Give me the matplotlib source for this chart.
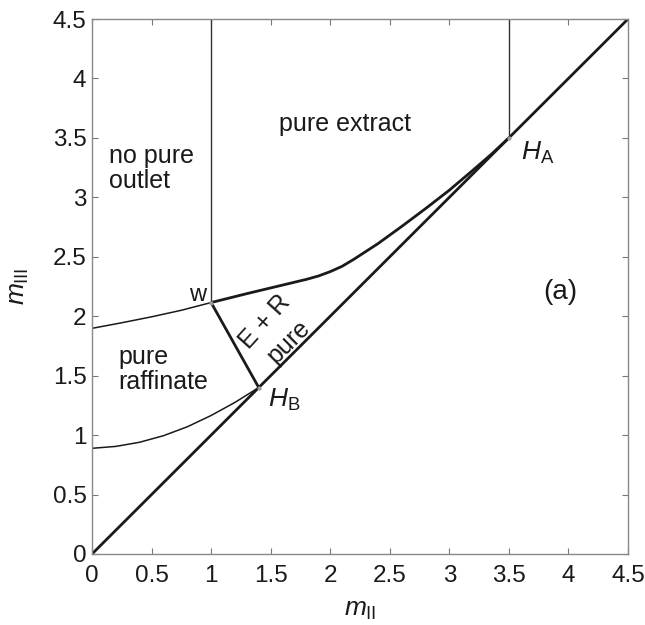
import matplotlib
matplotlib.use("Agg")
import matplotlib.pyplot as plt

plt.rcParams['font.family'] = ['Liberation Sans', 'DejaVu Sans']
plt.rcParams['mathtext.fontset'] = 'custom'
plt.rcParams['mathtext.rm'] = 'Liberation Sans'
plt.rcParams['mathtext.it'] = 'Liberation Sans:italic'

# ---- data ----
ticks = [0, 0.5, 1, 1.5, 2, 2.5, 3, 3.5, 4, 4.5]
tick_labels = ['0', '0.5', '1', '1.5', '2', '2.5', '3', '3.5', '4', '4.5']

diag_x = [0, 4.5]
diag_y = [0, 4.5]

upper_left_x = [0.0, 0.25, 0.5, 0.75, 1.0]
upper_left_y = [1.898, 1.945, 1.995, 2.05, 2.115]

wa_x = [1.0, 1.3, 1.6, 1.8, 1.9, 2.0, 2.1, 2.2, 2.4, 2.6, 2.8, 3.0, 3.2, 3.35, 3.5]
wa_y = [2.115, 2.19, 2.262, 2.31, 2.338, 2.375, 2.42, 2.48, 2.61, 2.755, 2.905, 3.06, 3.23, 3.36, 3.5]

lower_x = [0.0, 0.2, 0.4, 0.6, 0.8, 1.0, 1.2, 1.4]
lower_y = [0.889, 0.905, 0.94, 0.995, 1.07, 1.165, 1.275, 1.40]

wb_x = [1.0, 1.4]
wb_y = [2.115, 1.40]

vert_w_x = [1.0, 1.0]
vert_w_y = [2.115, 4.5]
vert_a_x = [3.5, 3.5]
vert_a_y = [3.5, 4.5]

points_x = [1.0, 3.5, 1.4]
points_y = [2.115, 3.5, 1.40]

# ---- figure ----
fig = plt.figure(figsize=(6.45, 6.25), dpi=100)
ax = fig.add_axes([92/645, 71/625, 536/645, 535/625])

thick = dict(color='#1a1a1a', lw=2.0, solid_capstyle='butt', solid_joinstyle='round')
thin = dict(color='#1a1a1a', lw=1.1, solid_joinstyle='round')
vthin = dict(color='#333333', lw=1.0)

ax.plot(diag_x, diag_y, **thick)
ax.plot(wa_x, wa_y, **thick)
ax.plot(wb_x, wb_y, **thick)
ax.plot(upper_left_x, upper_left_y, **thin)
ax.plot(lower_x, lower_y, **thin)
ax.plot(vert_w_x, vert_w_y, **vthin)
ax.plot(vert_a_x, vert_a_y, **vthin)
ax.plot(points_x, points_y, 'o', ms=3, color='#999999', mec='none', zorder=5)

ax.set_xlim(0, 4.5)
ax.set_ylim(0, 4.5)
ax.set_xticks(ticks)
ax.set_xticklabels(tick_labels)
ax.set_yticks(ticks)
ax.set_yticklabels(tick_labels)
ax.tick_params(direction='in', length=4, width=0.8, color='#777777',
               top=True, right=True, labelsize=17.5, labelcolor='#1a1a1a')
ax.tick_params(axis='x', pad=8)
ax.tick_params(axis='y', pad=4)
for s in ax.spines.values():
    s.set_color('#888888')
    s.set_linewidth(1.0)

ax.set_xlabel(r'$m_{\mathrm{II}}$', fontsize=19, color='#1a1a1a')
ax.set_ylabel(r'$m_{\mathrm{III}}$', fontsize=19, color='#1a1a1a')
ax.xaxis.set_label_coords(0.5, -0.083)
ax.yaxis.set_label_coords(-0.113, 0.5)

tc = '#1a1a1a'
ax.text(0.14, 3.24, 'no pure\noutlet', fontsize=18, ha='left', va='center',
        color=tc, linespacing=1.05)
ax.text(1.57, 3.62, 'pure extract', fontsize=18, ha='left', va='center', color=tc)
ax.text(0.22, 1.55, 'pure\nraffinate', fontsize=18, ha='left', va='center',
        color=tc, linespacing=1.05)
ax.text(0.89, 2.18, 'w', fontsize=17, ha='center', va='center', color=tc)
ax.text(1.455, 1.955, 'E + R', fontsize=18, ha='center', va='center',
        rotation=48, rotation_mode='anchor', color=tc)
ax.text(1.65, 1.785, 'pure', fontsize=18, ha='center', va='center',
        rotation=45, rotation_mode='anchor', color=tc)
ax.text(3.6, 3.37, r'$H_{\mathrm{A}}$', fontsize=19, ha='left', va='center', color=tc)
ax.text(1.48, 1.3, r'$H_{\mathrm{B}}$', fontsize=19, ha='left', va='center', color=tc)
ax.text(3.93, 2.2, '(a)', fontsize=20, ha='center', va='center', color=tc)

fig.savefig('out.png', dpi=100)
